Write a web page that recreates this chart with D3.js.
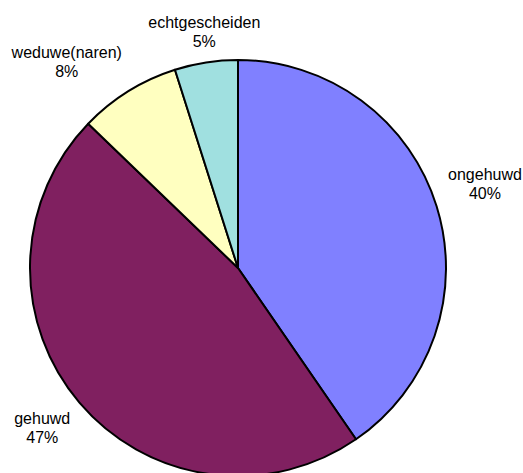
<!DOCTYPE html>
<html><head><meta charset="utf-8">
<script src="https://cdn.jsdelivr.net/npm/d3@7"></script>
<style>body{margin:0;background:#fff}svg{display:block}</style>
</head><body><svg id="c" width="523" height="473"></svg>
<script>
const categories = ["ongehuwd", "gehuwd", "weduwe(naren)", "echtgescheiden"];
const values = [40.4, 46.8, 7.9, 4.9];
const colors = ["#8080FF", "#802060", "#FFFFC0", "#A0E0E0"];

const W = 523, H = 473, cx = 238, cy = 268, R = 208;
const svg = d3.select("#c");
const g = svg.append("g").attr("transform", `translate(${cx},${cy})`);
const data = categories.map((c, i) => ({cat: c, v: values[i], col: colors[i]}));
const total = d3.sum(values);
const pie = d3.pie().sort(null).value(d => d.v).startAngle(0).endAngle(2 * Math.PI);
const arc = d3.arc().innerRadius(0).outerRadius(R);
const arcs = pie(data);

g.selectAll("path").data(arcs).join("path")
  .attr("d", arc).attr("fill", d => d.data.col)
  .attr("stroke", "#000").attr("stroke-width", 2).attr("stroke-linejoin", "round");

const fs = 16, lh = 19, rl = 220;
arcs.forEach(d => {
  const a = (d.startAngle + d.endAngle) / 2;
  const s = Math.sin(a), c = -Math.cos(a);
  const px = s * rl, py = c * rl;
  const t = g.append("text").attr("font-family", "'Liberation Sans', Arial, sans-serif")
    .attr("font-size", fs).attr("fill", "#000").attr("text-anchor", "middle");
  const l1 = t.append("tspan").text(d.data.cat);
  const l2 = t.append("tspan").text(Math.round(d.data.v / total * 100) + "%");
  const w = Math.max(l1.node().getComputedTextLength(), l2.node().getComputedTextLength());
  let x;
  if (Math.abs(s) < 0.3) x = px;
  else if (s > 0) x = px + w / 2;
  else x = px - w / 2;
  let b1, b2;
  if (c < 0) { b2 = py - 4; b1 = b2 - lh; }
  else { b1 = py + 14; b2 = b1 + lh; }
  l1.attr("x", x).attr("y", b1);
  l2.attr("x", x).attr("y", b2);
});
</script></body></html>
